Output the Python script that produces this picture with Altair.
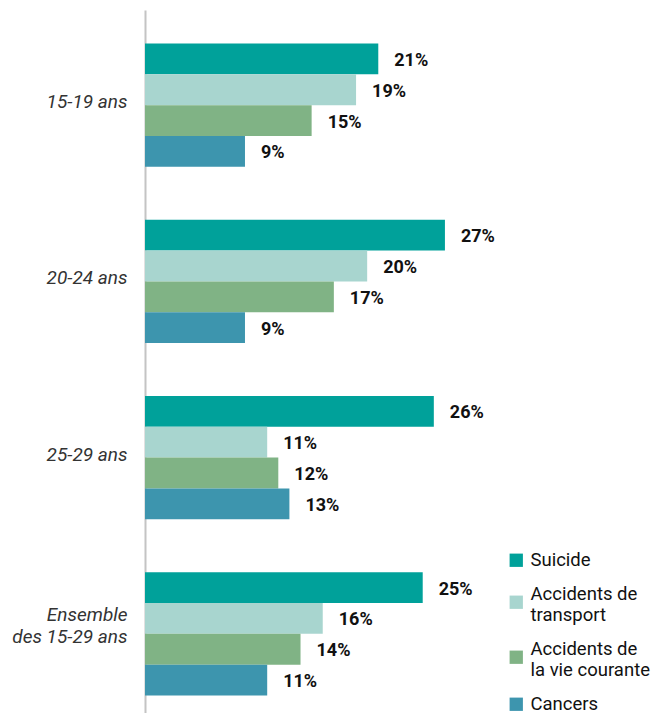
import altair as alt
import pandas as pd

groups = ["15-19 ans", "20-24 ans", "25-29 ans", "Ensemble des 15-29 ans"]
causes = ["Suicide", "Accidents de transport", "Accidents de la vie courante", "Cancers"]
colors = ["#00A19A", "#A8D5CF", "#80B385", "#3D95AE"]
suicide = [21, 27, 26, 25]
transport = [19, 20, 11, 16]
vie_courante = [15, 17, 12, 14]
cancers = [9, 9, 13, 11]

rows = []
for i, g in enumerate(groups):
    for c, vals in zip(causes, [suicide, transport, vie_courante, cancers]):
        rows.append({"groupe": g, "cause": c, "valeur": vals[i], "label": f"{vals[i]}%"})
df = pd.DataFrame(rows)

FONT = "Roboto"

# legend squares: centred for one-line labels, lowered for two-line labels
sq = "M-1,-1H1V1H-1Z"
sq_low = "M-1,0.2H1V2.2H-1Z"
shapes = [sq, sq_low, sq_low, sq]

legend = alt.Legend(title=None, orient="none", legendX=362, legendY=541,
                    symbolSize=177, symbolStrokeWidth=0, symbolOpacity=1,
                    labelFont=FONT, labelFontSize=18.5, labelColor="#111111",
                    labelLimit=200, rowPadding=15, labelOffset=5,
                    labelExpr="datum.value == 'Accidents de transport' ? ['Accidents de', 'transport'] : datum.value == 'Accidents de la vie courante' ? ['Accidents de', 'la vie courante'] : datum.value")

y_enc = alt.Y("groupe:N", sort=groups,
              scale=alt.Scale(paddingInner=0.3, paddingOuter=0.19),
              axis=alt.Axis(title=None, ticks=False, domain=True, domainColor="#c4c4c4",
                            domainWidth=2, labelFont=FONT, labelFontStyle="italic",
                            labelFontSize=19, labelColor="#333333", labelPadding=18,
                            labelLineHeight=22,
                            labelOffset={"condition": {"test": "datum.value == 'Ensemble des 15-29 ans'", "value": -19}, "value": -3},
                            labelExpr="datum.value == 'Ensemble des 15-29 ans' ? ['Ensemble', 'des 15-29 ans'] : datum.value"))
yoff = alt.YOffset("cause:N", sort=causes, scale=alt.Scale(paddingInner=0, paddingOuter=0))
x_enc = alt.X("valeur:Q", scale=alt.Scale(domain=[0, 46]), axis=None)
color_enc = alt.Color("cause:N", sort=causes, scale=alt.Scale(domain=causes, range=colors), legend=legend)

bars = alt.Chart(df).mark_bar(cornerRadius=0).encode(
    x=x_enc, y=y_enc, yOffset=yoff, color=color_enc,
)

keys = alt.Chart(df).mark_point(filled=True, opacity=0, size=0).encode(
    x=x_enc, y=y_enc, yOffset=yoff, color=color_enc,
    shape=alt.Shape("cause:N", sort=causes, scale=alt.Scale(domain=causes, range=shapes), legend=legend),
)

text = alt.Chart(df).mark_text(align="left", baseline="middle", dx=16, dy=2, fontWeight="bold",
                               font=FONT, fontSize=18, color="#111111").encode(
    x=x_enc, y=y_enc, yOffset=yoff, text="label:N")

chart = (bars + keys + text).properties(
    width=511, height=719,
    autosize=alt.AutoSizeParams(type="none"),
    padding={"left": 145, "top": 10, "right": 0, "bottom": 0},
).configure_view(stroke=None)

chart.save("out.html", embed_options={"renderer": "svg", "actions": False})
